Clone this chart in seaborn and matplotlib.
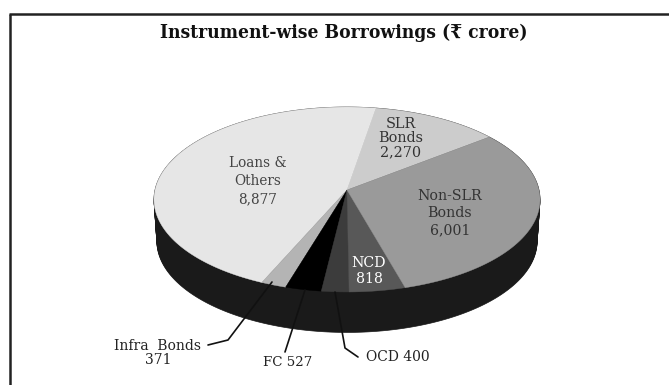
import numpy as np
import matplotlib
matplotlib.use("Agg")
import matplotlib.pyplot as plt
from matplotlib.patches import Polygon
import seaborn as sns

categories = ["SLR Bonds", "Loans & Others", "Infra Bonds", "FC", "OCD", "NCD", "Non-SLR Bonds"]
values = [2270, 8877, 371, 527, 400, 818, 6001]
shades = ["#cccccc", "#e6e6e6", "#b4b4b4", "#000000", "#3c3c3c", "#585858", "#9a9a9a"]
side_shade = "#1a1a1a"
title_text = "Instrument-wise Borrowings (\u20b9 crore)"

sns.set_theme(style="white")
plt.rcParams["font.family"] = ["DejaVu Serif", "DejaVu Sans"]

W, H = 669, 385
fig = plt.figure(figsize=(W / 100, H / 100), dpi=100, facecolor="white")
ax = fig.add_axes([0, 0, 1, 1])

palette = sns.color_palette(shades)
wedges, _ = ax.pie(values, colors=palette, startangle=38, counterclock=True, radius=1)

# project the pie's wedges onto a tilted disc
APEX_X, APEX_Y = 347.0, 190.0
SX, SY, PERSP = 192.0, 91.5, 0.1026


def project(u, v, drop=0.0, shrink=1.0):
    w = 1 + PERSP * v
    return APEX_X + shrink * SX * u / w, APEX_Y - shrink * SY * v / w + drop


sectors = [(w.theta1, w.theta2, w.get_facecolor()) for w in wedges]
for w in wedges:
    w.remove()
ax.set_aspect("auto")
ax.set_xlim(0, W)
ax.set_ylim(H, 0)
ax.axis("off")

# side wall
t = np.radians(np.linspace(0, 360, 360))
DEPTH = 42
for d in np.arange(0, DEPTH + 1):
    shrink = 1 - 0.015 * d / DEPTH
    x, y = project(np.cos(t), np.sin(t), d, shrink)
    ax.add_patch(Polygon(np.c_[x, y], closed=True, fc=side_shade, ec=side_shade, lw=0.5, zorder=1))

# top face
for t1, t2, col in sectors:
    a = np.radians(np.linspace(t1, t2, 120))
    u = np.r_[0, np.cos(a)]
    v = np.r_[0, np.sin(a)]
    x, y = project(u, v)
    ax.add_patch(Polygon(np.c_[x, y], closed=True, fc=col, ec=col, lw=0.3, zorder=2))

# labels
lab = dict(ha="center", va="center", zorder=5)
ax.text(401, 138, "SLR\nBonds\n2,270", fontsize=10.4, color="#333333", linespacing=1.0, **lab)
ax.text(258, 181, "Loans &\nOthers\n8,877", fontsize=9.8, color="#444444", linespacing=1.35, **lab)
ax.text(450, 213, "Non-SLR\nBonds\n6,001", fontsize=10.2, color="#333333", linespacing=1.3, **lab)
ax.text(369, 271, "NCD\n818", fontsize=10.2, color="white", linespacing=1.1, **lab)
ax.text(158, 353, "Infra  Bonds\n371", fontsize=10, color="#222222", linespacing=1.0, **lab)
ax.text(288, 362, "FC 527", fontsize=9.6, color="#222222", **lab)
ax.text(398, 357, "OCD 400", fontsize=10, color="#222222", **lab)

# leader lines
ax.plot([272, 228, 208], [282, 340, 345], color="#111111", lw=1.2, zorder=4)
ax.plot([305, 285], [290, 352], color="#111111", lw=1.2, zorder=4)
ax.plot([335, 345, 358], [292, 348, 357], color="#111111", lw=1.2, zorder=4)

# title
ax.text(344, 33, title_text, ha="center", va="center", fontsize=13.8,
        fontweight="bold", color="#111111", fontstretch="condensed", zorder=5)

# frame
ax.plot([10, 10], [H, 14], color="#222222", lw=1.8, zorder=5, solid_capstyle="butt")
ax.plot([9, W], [14, 14], color="#222222", lw=1.8, zorder=5, solid_capstyle="butt")

fig.savefig("out.png", dpi=100, facecolor="white")
